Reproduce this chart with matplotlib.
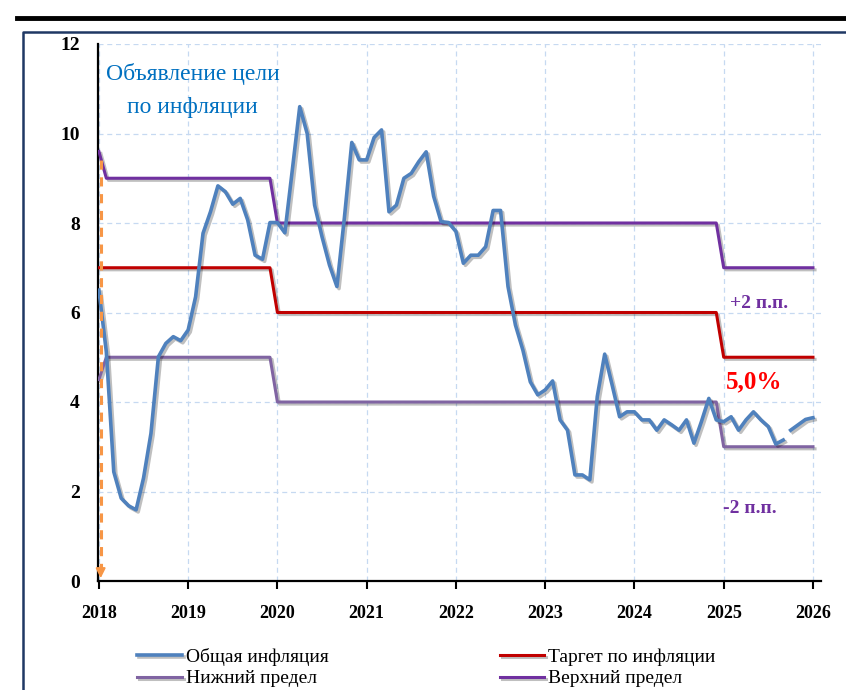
import numpy as np
from matplotlib import pyplot as plt
import matplotlib.patheffects as pe

# monthly data, Jan 2018 .. Jan 2026
inflation = [6.5, 5.12, 2.44, 1.85, 1.68, 1.59, 2.3, 3.3, 5.01, 5.31, 5.46, 5.37,
             5.61, 6.35, 7.77, 8.25, 8.83, 8.70, 8.42, 8.55, 8.07, 7.28, 7.19, 8.01,
             8.01, 7.78, 9.18, 10.6, 10.0, 8.40, 7.69, 7.06, 6.58, 8.11, 9.80, 9.41,
             9.41, 9.91, 10.08, 8.25, 8.40, 9.0, 9.11, 9.37, 9.59, 8.60, 8.03, 8.01,
             7.81, 7.10, 7.28, 7.28, 7.47, 8.28, 8.28, 6.58, 5.72, 5.16, 4.45, 4.16,
             4.27, 4.47, 3.60, 3.37, 2.37, 2.37, 2.26, 4.12, 5.07, 4.38, 3.67, 3.78,
             3.78, 3.60, 3.60, 3.37, 3.60, 3.49, 3.37, 3.60, 3.08, 3.56, 4.08, 3.60,
             3.56, 3.67, 3.37, 3.60, 3.78, 3.60, 3.45, 3.06, 3.15, 3.37, 3.49, 3.61,
             3.65]
target = [7.0] * 24 + [6.0] * 60 + [5.0] * 13
upper = [9.6] + [9.0] * 23 + [8.0] * 60 + [7.0] * 13
lower = [4.5] + [5.0] * 23 + [4.0] * 60 + [3.0] * 13
years = list(range(2018, 2027))
yticks = [0, 2, 4, 6, 8, 10, 12]
n_actual = 93

x = 2018 + np.arange(len(inflation)) / 12.0

BLUE = '#4F81BD'
RED = '#C00000'
UPPER_C = '#7030A0'
LOWER_C = '#8064A2'
serif = 'Liberation Serif'

shadow = [pe.SimpleLineShadow(offset=(1.5, -1.5), alpha=0.25), pe.Normal()]

fig = plt.figure(figsize=(8.46, 6.9), dpi=100)

# frame decorations
fig.add_artist(plt.Line2D([17/846, 1], [1-18/690, 1-18/690], color='black', lw=3.5))
fig.add_artist(plt.Line2D([23/846, 23/846, 1.01], [0, 1-32/690, 1-32/690],
                          color='#1F3864', lw=1.8))

ax = fig.add_axes([98/846, 1-581/690, 723/846, (581-44)/690])

l_inf, = ax.plot(x[:n_actual], inflation[:n_actual], color=BLUE, lw=2.6, path_effects=shadow,
                 label='Общая инфляция', zorder=4)
ax.plot(x[n_actual:], inflation[n_actual:], color=BLUE, lw=2.6, path_effects=shadow, zorder=4)
l_tar, = ax.plot(x, target, color=RED, lw=2.2, path_effects=shadow,
                 label='Таргет по инфляции', zorder=3)
l_low, = ax.plot(x, lower, color=LOWER_C, lw=2.2, path_effects=shadow,
                 label='Нижний предел', zorder=3)
l_up, = ax.plot(x, upper, color=UPPER_C, lw=2.2, path_effects=shadow,
                label='Верхний предел', zorder=3)

# announcement arrow
ax.plot([2018.02, 2018.02], [9.4, 0.25], color='#F79646', lw=2.2, ls=(0, (3, 2.5)), zorder=5)
ax.annotate('', xy=(2018.02, 0.0), xytext=(2018.02, 0.4),
            arrowprops=dict(arrowstyle='-|>', color='#F79646', lw=1.5, mutation_scale=14),
            zorder=5)

ax.text(2019.05, 10.97, 'Объявление цели\nпо инфляции', color='#0070C0', fontsize=17,
        family=serif, ha='center', va='center', linespacing=1.75)
ax.text(2025.07, 6.2, '+2 п.п.', color='#7030A0', fontsize=14, family=serif,
        fontweight='bold', ha='left', va='center')
ax.text(2025.02, 4.45, '5,0%', color='#FF0000', fontsize=18, family=serif,
        fontweight='bold', ha='left', va='center')
ax.text(2024.99, 1.63, '-2 п.п.', color='#7030A0', fontsize=14, family=serif,
        fontweight='bold', ha='left', va='center')

ax.set_xlim(2017.99, 2026.09)
ax.set_ylim(0, 12)
ax.set_xticks(years)
ax.set_yticks(yticks)
ax.set_xticklabels([str(y) for y in years], family=serif, fontweight='bold', fontsize=13)
ax.set_yticklabels([str(v) for v in yticks], family=serif, fontweight='bold', fontsize=14)
ax.tick_params(axis='x', length=6, width=1.5, pad=11)
ax.tick_params(axis='y', length=0, pad=13)
ax.grid(True, color='#C6D9F1', ls=(0, (4, 3)), lw=0.9)
for s in ['top', 'right']:
    ax.spines[s].set_visible(False)
for s in ['left', 'bottom']:
    ax.spines[s].set_linewidth(1.6)

leg = ax.legend(handles=[l_inf, l_low, l_tar, l_up], loc='upper left',
                bbox_to_anchor=(0.03, -0.092), ncol=2, frameon=False,
                prop={'family': serif, 'size': 14}, handlelength=2.3, handletextpad=0.2,
                columnspacing=8.8, labelspacing=0.2)

fig.savefig('out.png', dpi=100)
